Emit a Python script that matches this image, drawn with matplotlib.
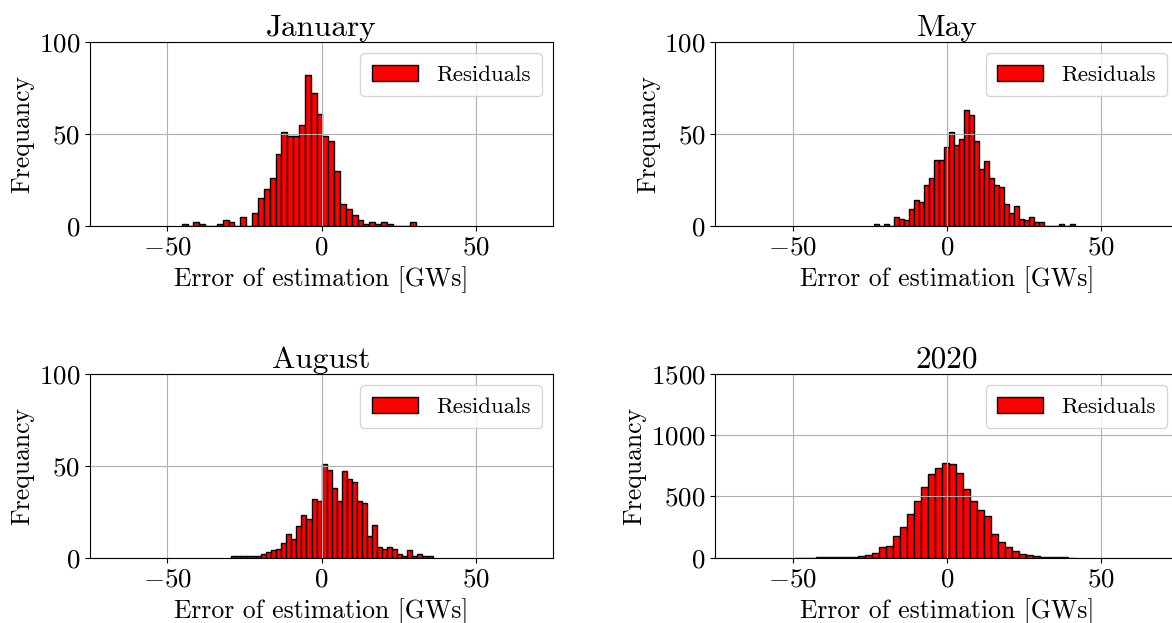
import numpy as np
import matplotlib
matplotlib.use("Agg")
import matplotlib.pyplot as plt

plt.rcParams['font.family'] = 'cmr10'
plt.rcParams['mathtext.fontset'] = 'cm'
plt.rcParams['axes.formatter.use_mathtext'] = True

# histogram counts (40 bins each)
jan_range = (-45.3, 30.6)
jan_counts = [1, 0, 2, 1, 0, 0, 1, 3, 2, 0, 5, 0, 7, 15, 20, 26, 39, 51, 49, 49,
              55, 82, 72, 61, 49, 46, 30, 12, 9, 6, 3, 1, 2, 1, 2, 1, 0, 0, 0, 2]

may_range = (-23.6, 41.3)
may_counts = [1, 0, 1, 0, 5, 4, 3, 9, 14, 13, 22, 26, 36, 36, 43, 51, 44, 47, 63, 60,
              46, 31, 35, 26, 22, 21, 12, 7, 11, 4, 3, 5, 2, 2, 0, 0, 0, 1, 0, 1]

aug_range = (-29.4, 35.9)
aug_counts = [1, 1, 1, 1, 1, 1, 2, 3, 4, 5, 8, 13, 10, 17, 23, 21, 32, 31, 51, 48,
              38, 31, 47, 43, 41, 31, 30, 12, 18, 6, 5, 6, 5, 2, 1, 4, 1, 2, 1, 1]

y2020_range = (-49.2, 41.5)
y2020_counts = [1, 1, 1, 2, 2, 3, 4, 5, 8, 10, 19, 38, 85, 93, 180, 254, 355, 467, 581, 685,
                732, 770, 762, 691, 565, 467, 388, 341, 191, 131, 87, 57, 27, 19, 11, 8, 5, 3, 2, 1]

titles = ['January', 'May', 'August', '2020']
ranges = [jan_range, may_range, aug_range, y2020_range]
counts = [jan_counts, may_counts, aug_counts, y2020_counts]
ylims = [100, 100, 100, 1500]
yticks = [[0, 50, 100], [0, 50, 100], [0, 50, 100], [0, 500, 1000, 1500]]

W, H = 1172, 623
fig = plt.figure(figsize=(W / 100, H / 100), dpi=100)

# axes boxes in pixels: left, top, right, bottom
boxes = [(90, 41.7, 553.3, 226), (715.3, 41.7, 1178.6, 226),
         (90, 374, 553.3, 557.7), (715.3, 374, 1178.6, 557.7)]

for i in range(4):
    l, t, r, b = boxes[i]
    ax = fig.add_axes([l / W, 1 - b / H, (r - l) / W, (b - t) / H])
    edges = np.linspace(ranges[i][0], ranges[i][1], len(counts[i]) + 1)
    ax.hist(edges[:-1], bins=edges, weights=counts[i], color='red',
            edgecolor='black', linewidth=1.0, label='Residuals')
    ax.set_xlim(-75, 75)
    ax.set_ylim(0, ylims[i])
    ax.set_xticks([-50, 0, 50])
    ax.set_yticks(yticks[i])
    ax.tick_params(labelsize=19.5)
    ax.grid(True, color='#b0b0b0', linewidth=0.8)
    ax.set_title(titles[i], fontsize=22.5, pad=4)
    ax.set_xlabel('Error of estimation [GWs]', fontsize=18.5, labelpad=5)
    ax.set_ylabel('Frequancy', fontsize=18.5, labelpad=3)
    ax.legend(loc='upper right', fontsize=16.5, borderpad=0.5)

fig.savefig('out.png', dpi=100)
